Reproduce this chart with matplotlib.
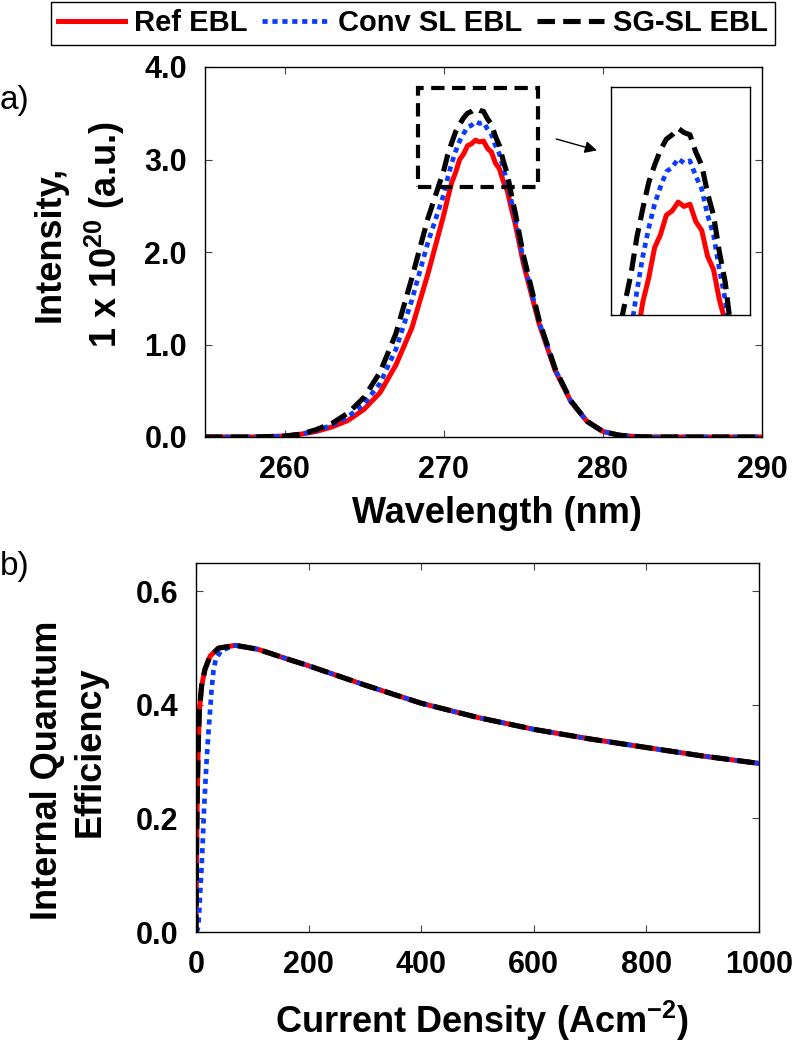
import matplotlib
matplotlib.use("Agg")
import matplotlib.pyplot as plt
from matplotlib.patches import Rectangle

plt.rcParams['font.family'] = ['Liberation Sans', 'DejaVu Sans']
plt.rcParams['mathtext.fontset'] = 'custom'
plt.rcParams['mathtext.rm'] = 'Liberation Sans:bold'
plt.rcParams['mathtext.bf'] = 'Liberation Sans:bold'
plt.rcParams['mathtext.it'] = 'Liberation Sans:bold'

# --- a) EL spectra (intensity in units of 1e20 a.u.) ---
wavelength = [255, 258, 260, 261, 262, 263, 264, 265, 266, 267, 268, 269,
              270, 270.25, 270.5, 270.75, 271, 271.25, 271.5, 271.75, 272,
              272.25, 272.5, 272.75, 273, 273.25, 273.5, 273.75, 274, 274.25, 274.5,
              275, 276, 277, 278, 279, 280, 281, 282, 283, 286, 290]
int_ref = [0, 0, 0.01, 0.03, 0.06, 0.11, 0.18, 0.30, 0.48, 0.78, 1.18, 1.76,
           2.40, 2.58, 2.75, 2.86, 3.00, 3.06, 3.15, 3.17, 3.21,
           3.19, 3.20, 3.12, 3.08, 2.96, 2.90, 2.76, 2.66, 2.47, 2.30,
           1.88, 1.22, 0.72, 0.38, 0.17, 0.06, 0.02, 0.005, 0, 0, 0]
int_conv = [0, 0, 0.01, 0.03, 0.07, 0.13, 0.22, 0.36, 0.58, 0.95, 1.48, 2.10,
            2.62, 2.80, 2.96, 3.09, 3.20, 3.28, 3.35, 3.37, 3.41,
            3.39, 3.40, 3.33, 3.27, 3.15, 3.06, 2.90, 2.76, 2.55, 2.36,
            1.92, 1.24, 0.73, 0.38, 0.17, 0.06, 0.02, 0.005, 0, 0, 0]
int_sg = [0, 0, 0.01, 0.03, 0.08, 0.15, 0.26, 0.43, 0.70, 1.12, 1.72, 2.36,
          2.88, 3.05, 3.18, 3.30, 3.38, 3.45, 3.50, 3.52, 3.55,
          3.53, 3.52, 3.44, 3.38, 3.25, 3.15, 2.98, 2.84, 2.62, 2.42,
          1.97, 1.26, 0.74, 0.39, 0.17, 0.06, 0.02, 0.005, 0, 0, 0]

# --- b) IQE vs current density ---
j_ref = [0, 0.5, 1.2, 2.4, 4, 6, 10, 16, 25, 40, 70, 110, 165, 200,
         300, 400, 500, 600, 700, 800, 900, 1000]
iqe_ref = [0, 0.07, 0.16, 0.25, 0.33, 0.39, 0.434, 0.463, 0.486, 0.500, 0.505,
           0.498, 0.480, 0.469, 0.435, 0.403, 0.378, 0.357, 0.340, 0.325, 0.310, 0.297]
j_sg = j_ref
iqe_sg = [0, 0.07, 0.16, 0.25, 0.33, 0.39, 0.434, 0.463, 0.486, 0.500, 0.505,
          0.498, 0.480, 0.469, 0.435, 0.403, 0.378, 0.357, 0.340, 0.325, 0.310, 0.297]
j_conv = [0, 3, 4, 6, 8, 10, 12, 14, 16.5, 19, 22, 25, 28, 31, 35, 45, 70, 110,
          165, 200, 300, 400, 500, 600, 700, 800, 900, 1000]
iqe_conv = [0, 0.005, 0.01, 0.04, 0.08, 0.115, 0.16, 0.21, 0.26, 0.305, 0.35,
            0.39, 0.43, 0.46, 0.48, 0.496, 0.505, 0.498, 0.480, 0.469, 0.435,
            0.403, 0.378, 0.357, 0.340, 0.325, 0.310, 0.297]

labels = ["Ref EBL", "Conv SL EBL", "SG-SL EBL"]

W, H = 794, 1043
def fx(x):
    return x / W
def fy(y):
    return 1 - y / H

red = "#ff0000"
blue = "#0a3cff"
styles = [dict(color=red, lw=3.6, ls="-"),
          dict(color=blue, lw=3.4, ls=(0, (1.1, 1.0))),
          dict(color="black", lw=3.7, ls=(0, (3.4, 1.6)))]

fig = plt.figure(figsize=(7.94, 10.43), dpi=100)

def style_axes(ax):
    ax.tick_params(direction="in", top=True, right=True, length=5, width=0.8,
                   color="#444444", labelsize=22, pad=13)
    for lab in ax.get_xticklabels() + ax.get_yticklabels():
        lab.set_fontweight("bold")
    for s in ax.spines.values():
        s.set_linewidth(1.0)

# top panel
ax1 = fig.add_axes([fx(205), fy(437), fx(762) - fx(205), fy(67) - fy(437)])
handles = []
for y, st, lab in zip([int_ref, int_conv, int_sg], styles, labels):
    h, = ax1.plot(wavelength, y, label=lab, **st)
    handles.append(h)
ax1.set_xlim(255, 290)
ax1.set_ylim(0, 4)
ax1.set_xticks([260, 270, 280, 290])
ax1.set_yticks([0, 1, 2, 3, 4])
ax1.set_yticklabels(["0.0", "1.0", "2.0", "3.0", "4.0"])
style_axes(ax1)
ax1.add_patch(Rectangle((268.4, 2.7), 7.5, 1.07, fill=False, ec="black",
                        lw=3, ls=(0, (3.2, 1.8)), zorder=5))
ax1.annotate("", xy=(279.8, 3.09), xytext=(276.9, 3.23),
             arrowprops=dict(arrowstyle="-|>", color="black", lw=1,
                             mutation_scale=18))

# inset
axin = fig.add_axes([fx(611), fy(315), fx(750) - fx(611), fy(87) - fy(315)])
for y, st in zip([int_ref, int_conv, int_sg], styles):
    axin.plot(wavelength, y, **st)
axin.set_xlim(269.15, 275.05)
axin.set_ylim(2.69, 3.74)
axin.set_xticks([])
axin.set_yticks([])
for s in axin.spines.values():
    s.set_linewidth(1.0)

# bottom panel
ax2 = fig.add_axes([fx(196), fy(932), fx(759) - fx(196), fy(563) - fy(932)])
ax2.plot(j_ref, iqe_ref, **styles[0])
ax2.plot(j_conv, iqe_conv, **styles[1])
ax2.plot(j_sg, iqe_sg, **styles[2])
ax2.set_xlim(0, 1000)
ax2.set_ylim(0, 0.65)
ax2.set_xticks([0, 200, 400, 600, 800, 1000])
ax2.set_yticks([0, 0.2, 0.4, 0.6])
ax2.set_yticklabels(["0.0", "0.2", "0.4", "0.6"])
style_axes(ax2)

# axis labels, placed by text start and baseline
lab_kw = dict(fontsize=26, fontweight="bold", ha="left", va="baseline",
              rotation_mode="anchor")
fig.text(fx(352), fy(523), "Wavelength (nm)", **lab_kw)
fig.text(fx(275), fy(1033), "Current Density (Acm$^{-2}$)", **lab_kw)
fig.text(fx(60), fy(322), "Intensity,", rotation=90, **lab_kw)
fig.text(fx(117), fy(348), "1 x 10$^{20}$ (a.u.)", rotation=90, **lab_kw)
fig.text(fx(57), fy(920), "Internal Quantum", rotation=90, **lab_kw)
fig.text(fx(100), fy(837), "Efficiency", rotation=90, **lab_kw)
fig.text(fx(0), fy(100), "a)", fontsize=24, ha="left", va="center")
fig.text(fx(0), fy(567), "b)", fontsize=24, ha="left", va="center")

leg = fig.legend(handles=handles, loc="upper center", ncol=3,
                 bbox_to_anchor=(fx(413), fy(2)), frameon=True, fancybox=False,
                 edgecolor="black", framealpha=1, borderpad=0.25,
                 handlelength=2.3, handletextpad=0.3, columnspacing=0.5,
                 borderaxespad=0, prop=dict(size=21, weight="bold"))
leg.get_frame().set_linewidth(1.0)

fig.savefig("out.png", dpi=100)
